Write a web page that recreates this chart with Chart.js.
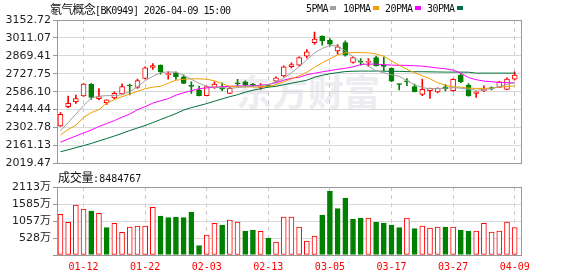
<!DOCTYPE html>
<html>
<head>
<meta charset="utf-8">
<script src="https://cdn.jsdelivr.net/npm/chart.js@4.4.1/dist/chart.umd.min.js"></script>
<style>
    body { margin:0; background:#fff; width:578px; height:276px; overflow:hidden; position:relative; }
    canvas { position:absolute; left:0; z-index:1; }
    #kline { top:0; }
    #vol { top:166px; }
    .txt { position:absolute; white-space:nowrap; color:#111; z-index:2; line-height:14px; }
    .cjk { font-family:"Noto Sans CJK SC", sans-serif; font-size:12px; }
    .mono { font-family:"DejaVu Sans Mono", monospace; font-size:10px; }
    .sq { display:inline-block; width:6px; height:4px; margin-left:2px; vertical-align:2px; }
    #wm { position:absolute; left:236px; top:70px; z-index:0; font-family:"Noto Sans CJK SC", sans-serif;
          font-size:36px; font-weight:bold; line-height:40px; color:#ececf1; white-space:nowrap; }
</style>
</head>
<body>
<div id="wm">东方财富</div>
<canvas id="kline" width="578" height="172"></canvas>
<canvas id="vol" width="578" height="110"></canvas>

<div class="txt" style="left:50px;top:2px"><span class="cjk" style="letter-spacing:-0.75px">氡气概念</span><span class="mono" style="letter-spacing:-0.6px">[BK0949] 2026-04-09 15:00</span></div>
<div class="txt mono" style="left:306px;top:2px;letter-spacing:-0.5px">5PMA<span class="sq" style="background:#a0a0a0"></span></div>
<div class="txt mono" style="left:343px;top:2px;letter-spacing:-0.5px">10PMA<span class="sq" style="background:#f0a000"></span></div>
<div class="txt mono" style="left:385px;top:2px;letter-spacing:-0.5px">20PMA<span class="sq" style="background:#ff00ff"></span></div>
<div class="txt mono" style="left:427px;top:2px;letter-spacing:-0.5px">30PMA<span class="sq" style="background:#006f3c"></span></div>
<div class="txt" id="volTitle" style="left:58px;top:170px"></div>

<script>
/* trading days shown */
var dates = ['01-07','01-08','01-09','01-12','01-13','01-14','01-15','01-16','01-19','01-20',
    '01-21','01-22','01-23','01-26','01-27','01-28','01-29','01-30','02-02','02-03',
    '02-04','02-05','02-06','02-09','02-10','02-11','02-12','02-13','02-24','02-25',
    '02-26','02-27','03-02','03-03','03-04','03-05','03-06','03-09','03-10','03-11',
    '03-12','03-13','03-16','03-17','03-18','03-19','03-20','03-23','03-24','03-25',
    '03-26','03-27','03-30','03-31','04-01','04-02','04-03','04-07','04-08','04-09'];
var labelIdx = [3, 11, 19, 27, 35, 43, 51, 59];

/* daily k line */
var open = [2316,2468,2507,2552,2647,2531,2500,2537,2568,2636,
    2620,2691,2777,2796,2720,2736,2704,2631,2600,2555,
    2620,2618,2573,2654,2665,2641,2620,2636,2670,2710,
    2783,2796,2867,2974,3025,2993,2909,2974,2817,2828,
    2818,2856,2795,2770,2647,2666,2626,2565,2594,2584,
    2625,2594,2718,2639,2573,2592,2614,2620,2604,2686];
var high = [2421,2552,2560,2650,2650,2610,2521,2586,2649,2647,
    2686,2783,2809,2798,2744,2744,2718,2665,2631,2630,
    2665,2657,2620,2683,2672,2653,2651,2641,2704,2790,
    2815,2862,2919,3058,3028,3006,2958,2988,2862,2848,
    2848,2867,2859,2775,2648,2690,2647,2685,2614,2617,
    2643,2688,2730,2651,2586,2633,2625,2669,2696,2744];
var low = [2312,2460,2494,2548,2525,2521,2486,2529,2566,2560,
    2612,2688,2762,2725,2686,2683,2650,2573,2553,2552,
    2612,2594,2571,2631,2631,2625,2604,2624,2664,2703,
    2775,2790,2854,2962,2954,2946,2883,2866,2812,2796,
    2788,2788,2752,2665,2600,2634,2584,2555,2533,2576,
    2592,2590,2657,2550,2541,2586,2600,2617,2602,2678];
var close = [2407,2494,2531,2647,2541,2547,2521,2573,2626,2631,
    2673,2775,2793,2744,2730,2704,2651,2628,2555,2626,
    2647,2606,2613,2649,2639,2636,2639,2630,2696,2783,
    2801,2856,2901,3001,2988,2962,2940,2875,2856,2820,
    2826,2791,2785,2670,2643,2664,2586,2604,2612,2615,
    2608,2683,2665,2552,2586,2604,2611,2665,2686,2718];

/* moving averages as drawn */
var ma5 = [2277,2342,2409,2476,2535,2551,2555,2555,2562,2586,
    2625,2673,2708,2736,2743,2740,2716,2684,2653,2629,
    2621,2618,2614,2618,2625,2629,2633,2641,2665,2692,
    2736,2783,2838,2893,2928,2952,2948,2909,2862,2822,
    2787,2751,2736,2720,2708,2673,2641,2618,2610,2610,
    2614,2618,2614,2606,2598,2602,2610,2625,2645,2657];
var ma10 = [2245,2287,2322,2382,2421,2444,2496,2523,2547,2566,
    2590,2610,2622,2629,2653,2677,2684,2688,2688,2684,
    2673,2649,2629,2625,2624,2623,2623,2629,2641,2665,
    2688,2712,2740,2779,2814,2846,2877,2893,2895,2895,
    2893,2885,2866,2830,2795,2763,2736,2712,2688,2657,
    2637,2625,2622,2614,2612,2612,2614,2623,2627,2631];
var ma20 = [2187,2212,2236,2260,2283,2311,2334,2358,2385,2409,
    2444,2468,2496,2515,2531,2559,2578,2594,2610,2616,
    2621,2625,2629,2631,2632,2633,2637,2643,2657,2677,
    2692,2700,2720,2732,2743,2753,2763,2771,2783,2800,
    2804,2804,2800,2796,2795,2794,2791,2788,2781,2773,
    2767,2757,2733,2698,2681,2670,2665,2659,2657,2657];
var ma30 = [2112,2127,2144,2160,2177,2197,2216,2236,2257,2279,
    2299,2319,2342,2366,2389,2413,2441,2460,2476,2492,
    2511,2529,2547,2562,2582,2598,2610,2622,2629,2641,
    2653,2665,2677,2700,2716,2728,2737,2745,2748,2749,
    2749,2749,2748,2747,2747,2745,2744,2744,2743,2742,
    2741,2741,2741,2740,2733,2733,2733,2733,2733,2733];

/* volume, in 万 */
var volume = [1264,1015,1553,1429,1367,1295,849,985,705,870,
    901,901,1482,1212,1160,1181,1160,1336,290,621,
    985,932,1087,1025,746,777,736,528,404,1181,
    1181,870,435,590,1243,1988,1439,1771,1118,1150,
    1150,1025,994,932,849,1150,818,901,839,870,
    870,870,777,746,746,985,715,746,1025,848.4767];

/* axis tick labels */
var priceTicks = ['2019.47','2161.13','2302.78','2444.44','2586.10','2727.75','2869.41','3011.07','3152.72'];
var volTicks = [0, 528.25, 1056.5, 1584.75, 2113];
var volTickLabels = ['', '528万', '1057万', '1585万', '2113万'];

var RED = '#ff0000', GREEN = '#008000';

function isUp(i) { return close[i] >= open[i]; }
function volUp(i) { return i === 0 ? isUp(0) : close[i] >= close[i - 1]; }
function pts(arr) { return arr.map(function (v, i) { return {x: i, y: v}; }); }

/* grey frame round each panel */
var frame = {
    id: 'frame',
    afterDraw: function (c) {
        var a = c.chartArea, ctx = c.ctx;
        ctx.save();
        ctx.strokeStyle = '#999';
        ctx.lineWidth = 1;
        ctx.strokeRect(Math.round(a.left) + 0.5, Math.round(a.top) + 0.5,
            Math.round(a.right - a.left) - 1, Math.round(a.bottom - a.top));
        ctx.restore();
    }
};

function xAxis(showLabels) {
    return {
        type: 'linear', min: -0.45, max: 59.95, offset: false,
        afterBuildTicks: function (s) { s.ticks = labelIdx.map(function (v) { return {value: v}; }); },
        grid: {color: '#c8c8c8', drawTicks: false, offset: false},
        border: {display: false, dash: [4, 4]},
        ticks: {
            display: showLabels, autoSkip: false, maxRotation: 0, padding: 6, color: RED,
            font: {family: '"DejaVu Sans Mono", monospace', size: 10},
            callback: function (v) { return dates[v]; }
        },
        afterFit: function (s) { s.height = showLabels ? 21 : 0; }
    };
}

var yFont = {family: '"DejaVu Sans", "Noto Sans CJK SC", sans-serif', size: 11};

function colorBy(test, a, b) {
    return function (ctx) { return test(ctx.dataIndex) ? a : b; };
}

new Chart(document.getElementById('kline'), {
    data: {
        datasets: [
            {type: 'line', data: pts(ma5), borderColor: '#a0a0a0', borderWidth: 1, pointRadius: 0, order: 0},
            {type: 'line', data: pts(ma10), borderColor: '#f0a000', borderWidth: 1, pointRadius: 0, order: 0},
            {type: 'line', data: pts(ma20), borderColor: '#ff00ff', borderWidth: 1, pointRadius: 0, order: 0},
            {type: 'line', data: pts(ma30), borderColor: '#006f3c', borderWidth: 1, pointRadius: 0, order: 0},
            {
                type: 'bar', order: 1, grouped: false, barThickness: 5, minBarLength: 1,
                borderWidth: 1, borderSkipped: false,
                data: open.map(function (o, i) { return {x: i, y: [o, close[i]]}; }),
                backgroundColor: colorBy(isUp, '#fff', GREEN),
                borderColor: colorBy(isUp, RED, GREEN)
            },
            {
                type: 'bar', order: 2, grouped: false, barThickness: 1, borderWidth: 0,
                data: low.map(function (l, i) { return {x: i, y: [l, high[i]]}; }),
                backgroundColor: colorBy(isUp, RED, GREEN)
            }
        ]
    },
    options: {
        responsive: false, animation: false, events: [],
        layout: {padding: {top: 20, right: 56, bottom: 7, left: 0}},
        plugins: {legend: {display: false}, tooltip: {enabled: false}},
        scales: {
            x: xAxis(false),
            y: {
                min: 2019.47, max: 3152.72,
                afterBuildTicks: function (s) { s.ticks = priceTicks.map(function (t) { return {value: parseFloat(t)}; }); },
                ticks: {color: '#222', font: yFont, padding: 2, callback: function (v, i) { return priceTicks[i]; }},
                grid: {color: '#d8d8d8', tickLength: 4, tickColor: '#999'},
                border: {display: false},
                afterFit: function (s) { s.width = 57; }
            }
        }
    },
    plugins: [frame]
});

new Chart(document.getElementById('vol'), {
    data: {
        datasets: [{
            type: 'bar', grouped: false, barThickness: 5, borderWidth: 1, borderSkipped: false,
            data: pts(volume),
            backgroundColor: colorBy(volUp, '#fff', GREEN),
            borderColor: colorBy(volUp, RED, GREEN)
        }]
    },
    options: {
        responsive: false, animation: false, events: [],
        layout: {padding: {top: 21, right: 56, bottom: 0, left: 0}},
        plugins: {legend: {display: false}, tooltip: {enabled: false}},
        scales: {
            x: xAxis(true),
            y: {
                min: 0, max: 2113,
                afterBuildTicks: function (s) { s.ticks = volTicks.map(function (v) { return {value: v}; }); },
                ticks: {color: '#222', font: yFont, padding: 2, callback: function (v, i) { return volTickLabels[i]; }},
                grid: {color: '#d8d8d8', tickLength: 4, tickColor: '#999'},
                border: {display: false},
                afterFit: function (s) { s.width = 57; }
            }
        }
    },
    plugins: [frame]
});

/* last day volume in the panel title */
document.getElementById('volTitle').innerHTML =
    '<span class="cjk" style="letter-spacing:-0.3px">成交量</span><span class="mono">:' +
    Math.round(volume[volume.length - 1] * 10000) + '</span>';
</script>
</body>
</html>
